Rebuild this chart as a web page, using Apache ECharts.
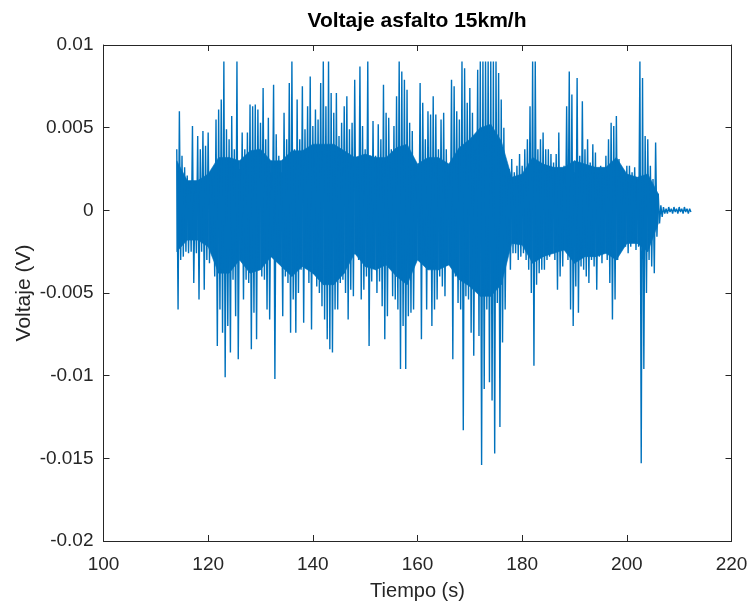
<!DOCTYPE html>
<html>
<head>
<meta charset="utf-8">
<script src="https://cdn.jsdelivr.net/npm/echarts@6.0.0/dist/echarts.min.js"></script>
<style>
  html, body { margin: 0; padding: 0; background: #fff; }
  #chart { width: 749px; height: 603px; }
</style>
</head>
<body>
<div id="chart"></div>
<script>
// Sample times (s): one upper and one lower peak read per half second
const sampleTime = [
  114.0,114.5,115.0,115.5,116.0,116.5,117.0,117.5,118.0,118.5,
  119.0,119.5,120.0,120.5,121.0,121.5,122.0,122.5,123.0,123.5,
  124.0,124.5,125.0,125.5,126.0,126.5,127.0,127.5,128.0,128.5,
  129.0,129.5,130.0,130.5,131.0,131.5,132.0,132.5,133.0,133.5,
  134.0,134.5,135.0,135.5,136.0,136.5,137.0,137.5,138.0,138.5,
  139.0,139.5,140.0,140.5,141.0,141.5,142.0,142.5,143.0,143.5,
  144.0,144.5,145.0,145.5,146.0,146.5,147.0,147.5,148.0,148.5,
  149.0,149.5,150.0,150.5,151.0,151.5,152.0,152.5,153.0,153.5,
  154.0,154.5,155.0,155.5,156.0,156.5,157.0,157.5,158.0,158.5,
  159.0,159.5,160.0,160.5,161.0,161.5,162.0,162.5,163.0,163.5,
  164.0,164.5,165.0,165.5,166.0,166.5,167.0,167.5,168.0,168.5,
  169.0,169.5,170.0,170.5,171.0,171.5,172.0,172.5,173.0,173.5,
  174.0,174.5,175.0,175.5,176.0,176.5,177.0,177.5,178.0,178.5,
  179.0,179.5,180.0,180.5,181.0,181.5,182.0,182.5,183.0,183.5,
  184.0,184.5,185.0,185.5,186.0,186.5,187.0,187.5,188.0,188.5,
  189.0,189.5,190.0,190.5,191.0,191.5,192.0,192.5,193.0,193.5,
  194.0,194.5,195.0,195.5,196.0,196.5,197.0,197.5,198.0,198.5,
  199.0,199.5,200.0,200.5,201.0,201.5,202.0,202.5,203.0,203.5,
  204.0,204.5,205.0,205.5,206.0,206.5,207.0,207.5,208.0,208.5,
  209.0,209.5,210.0,210.5,211.0,211.5,212.0
];

// Positive peaks of the voltage signal (V)
const upperPeak = [
  0.0037,0.0060,0.0033,0.0026,0.0021,0.0017,0.0051,0.0017,0.0045,0.0037,
  0.0048,0.0039,0.0047,0.0023,0.0026,0.0055,0.0061,0.0067,0.0090,0.0049,
  0.0043,0.0057,0.0037,0.0090,0.0025,0.0047,0.0037,0.0047,0.0064,0.0063,
  0.0064,0.0061,0.0053,0.0074,0.0043,0.0056,0.0023,0.0076,0.0046,0.0033,
  0.0023,0.0059,0.0043,0.0077,0.0090,0.0037,0.0067,0.0043,0.0075,0.0049,
  0.0063,0.0081,0.0051,0.0061,0.0055,0.0077,0.0090,0.0063,0.0090,0.0071,
  0.0059,0.0071,0.0045,0.0053,0.0063,0.0069,0.0049,0.0053,0.0079,0.0026,
  0.0087,0.0051,0.0037,0.0090,0.0033,0.0054,0.0033,0.0052,0.0043,0.0076,
  0.0059,0.0056,0.0037,0.0051,0.0069,0.0090,0.0084,0.0079,0.0073,0.0053,
  0.0048,0.0029,0.0027,0.0077,0.0065,0.0043,0.0060,0.0058,0.0069,0.0058,
  0.0037,0.0055,0.0059,0.0037,0.0027,0.0079,0.0075,0.0060,0.0055,0.0090,
  0.0086,0.0065,0.0074,0.0059,0.0037,0.0085,0.0090,0.0090,0.0090,0.0090,
  0.0090,0.0090,0.0090,0.0083,0.0067,0.0050,0.0021,0.0025,0.0031,0.0023,
  0.0027,0.0034,0.0027,0.0037,0.0043,0.0063,0.0090,0.0090,0.0037,0.0043,
  0.0047,0.0037,0.0037,0.0034,0.0029,0.0034,0.0047,0.0023,0.0027,0.0063,
  0.0084,0.0070,0.0023,0.0080,0.0033,0.0066,0.0037,0.0043,0.0029,0.0040,
  0.0035,0.0025,0.0027,0.0023,0.0033,0.0043,0.0053,0.0051,0.0057,0.0031,
  0.0026,0.0024,0.0027,0.0027,0.0023,0.0026,0.0019,0.0090,0.0080,0.0045,
  0.0043,0.0027,0.0019,0.0041,0.0010,0.0003,0.0002,0.0001,0.0002,0.0001,
  0.0002,0.0001,0.0002,0.0001,0.0002,0.0001,0.0001
];

// Negative peaks of the voltage signal (V)
const lowerPeak = [
  -0.0060,-0.0030,-0.0028,-0.0025,-0.0026,-0.0025,-0.0044,-0.0026,-0.0054,-0.0025,
  -0.0048,-0.0030,-0.0032,-0.0020,-0.0040,-0.0082,-0.0060,-0.0074,-0.0101,-0.0070,
  -0.0086,-0.0042,-0.0064,-0.0090,-0.0028,-0.0054,-0.0042,-0.0044,-0.0084,-0.0062,
  -0.0078,-0.0030,-0.0040,-0.0042,-0.0060,-0.0066,-0.0022,-0.0102,-0.0026,-0.0026,
  -0.0064,-0.0040,-0.0044,-0.0074,-0.0054,-0.0074,-0.0050,-0.0036,-0.0068,-0.0034,
  -0.0044,-0.0072,-0.0036,-0.0046,-0.0050,-0.0058,-0.0066,-0.0078,-0.0084,-0.0086,
  -0.0060,-0.0060,-0.0044,-0.0042,-0.0050,-0.0066,-0.0048,-0.0052,-0.0026,-0.0030,
  -0.0054,-0.0048,-0.0040,-0.0082,-0.0043,-0.0030,-0.0050,-0.0043,-0.0058,-0.0078,
  -0.0064,-0.0030,-0.0052,-0.0054,-0.0060,-0.0096,-0.0070,-0.0096,-0.0064,-0.0062,
  -0.0060,-0.0028,-0.0030,-0.0078,-0.0026,-0.0060,-0.0030,-0.0070,-0.0060,-0.0054,
  -0.0040,-0.0046,-0.0052,-0.0032,-0.0028,-0.0090,-0.0040,-0.0056,-0.0060,-0.0133,
  -0.0052,-0.0054,-0.0074,-0.0088,-0.0040,-0.0076,-0.0154,-0.0108,-0.0060,-0.0104,
  -0.0115,-0.0147,-0.0056,-0.0131,-0.0080,-0.0060,-0.0022,-0.0036,-0.0026,-0.0026,
  -0.0030,-0.0028,-0.0026,-0.0030,-0.0036,-0.0050,-0.0094,-0.0045,-0.0038,-0.0036,
  -0.0036,-0.0030,-0.0028,-0.0026,-0.0030,-0.0048,-0.0040,-0.0034,-0.0024,-0.0030,
  -0.0060,-0.0070,-0.0046,-0.0062,-0.0034,-0.0036,-0.0040,-0.0044,-0.0030,-0.0034,
  -0.0048,-0.0028,-0.0032,-0.0026,-0.0030,-0.0044,-0.0066,-0.0054,-0.0030,-0.0024,
  -0.0022,-0.0022,-0.0026,-0.0022,-0.0018,-0.0024,-0.0022,-0.0153,-0.0096,-0.0050,
  -0.0030,-0.0034,-0.0038,-0.0016,-0.0008,-0.0004,-0.0002,-0.0002,-0.0001,-0.0002,
  -0.0001,-0.0002,-0.0001,-0.0002,-0.0001,-0.0002,-0.0001
];

// Dense (solid) core of the signal, read every 2 s
const coreTime = [
  114,116,118,120,122,124,126,128,130,132,134,136,138,140,142,144,
  146,148,150,152,154,156,158,160,162,164,166,168,170,172,174,176,
  178,180,182,184,186,188,190,192,194,196,198,200,202,204,206
];
const coreUpper = [
  0.0030,0.0018,0.0018,0.0022,0.0032,0.0032,0.0030,0.0036,0.0037,0.0030,0.0030,0.0036,0.0036,0.0040,0.0040,0.0040,
  0.0036,0.0032,0.0034,0.0032,0.0032,0.0038,0.0040,0.0028,0.0032,0.0032,0.0028,0.0038,0.0043,0.0050,0.0052,0.0042,
  0.0020,0.0022,0.0032,0.0028,0.0026,0.0026,0.0030,0.0028,0.0026,0.0026,0.0032,0.0022,0.0020,0.0022,0.0010
];
const coreLower = [
  -0.0025,-0.0018,-0.0018,-0.0022,-0.0038,-0.0038,-0.0030,-0.0038,-0.0036,-0.0028,-0.0034,-0.0040,-0.0034,-0.0038,-0.0045,-0.0045,
  -0.0038,-0.0026,-0.0034,-0.0036,-0.0033,-0.0040,-0.0045,-0.0030,-0.0036,-0.0036,-0.0033,-0.0042,-0.0046,-0.0052,-0.0052,-0.0045,
  -0.0020,-0.0021,-0.0032,-0.0028,-0.0026,-0.0024,-0.0032,-0.0028,-0.0028,-0.0026,-0.0030,-0.0020,-0.0020,-0.0025,-0.0008
];

// Tick values
const xTicks = [100, 120, 140, 160, 180, 200, 220];
const yTicks = [-0.02, -0.015, -0.01, -0.005, 0, 0.005, 0.01];

// Signal trace: each upper peak followed by a lower peak half a sample later
const halfSample = 0.25;
const n = Math.min(sampleTime.length, upperPeak.length, lowerPeak.length);
const trace = [];
for (let i = 0; i < n; i++) {
  trace.push([sampleTime[i], upperPeak[i]]);
  trace.push([sampleTime[i] + halfSample, lowerPeak[i]]);
}
const coreData = coreTime.map((t, i) => [t, coreLower[i], coreUpper[i]]);

const FONT = '"Liberation Sans", Arial, Helvetica, sans-serif';
const AX = '#262626';
const BLUE = '#0072BD';

const chart = echarts.init(document.getElementById('chart'), null, { renderer: 'canvas' });
const xStep = xTicks[1] - xTicks[0];
const yStep = yTicks[1] - yTicks[0];
const yLabel = v => String(+Number(v).toFixed(3));

const baseAxis = {
  axisLine: { show: true, onZero: false, lineStyle: { color: AX, width: 1 } },
  axisTick: { show: true, inside: true, length: 6, lineStyle: { color: AX, width: 1 } },
  splitLine: { show: false }
};

// Core band: one quad between consecutive core samples, placed through the axes
function renderCore(params, api) {
  const i = params.dataIndex;
  if (i >= coreData.length - 1) return null;
  const a = coreData[i], b = coreData[i + 1];
  const pts = [
    api.coord([a[0], a[1]]), api.coord([a[0], a[2]]),
    api.coord([b[0], b[2]]), api.coord([b[0], b[1]])
  ];
  return {
    type: 'polygon',
    shape: { points: pts },
    style: { fill: BLUE, stroke: BLUE, lineWidth: 0.6 }
  };
}

chart.setOption({
  animation: false,
  backgroundColor: '#ffffff',
  title: {
    text: 'Voltaje asfalto 15km/h',
    left: 417, top: 11, textAlign: 'center', padding: 0,
    textStyle: { fontFamily: FONT, fontSize: 21, fontWeight: 'bold', color: '#000' }
  },
  grid: { left: 103.5, right: 17.5, top: 45, bottom: 62, containLabel: false, outerBoundsMode: 'none' },
  xAxis: [
    Object.assign({}, baseAxis, {
      type: 'value', position: 'bottom',
      min: xTicks[0], max: xTicks[xTicks.length - 1], interval: xStep,
      axisLabel: { color: AX, fontSize: 19, fontFamily: FONT, margin: 14 },
      name: 'Tiempo (s)', nameLocation: 'middle', nameGap: 40, nameMoveOverlap: false,
      nameTextStyle: { color: AX, fontSize: 20, fontFamily: FONT }
    }),
    Object.assign({}, baseAxis, {
      type: 'value', position: 'top',
      min: xTicks[0], max: xTicks[xTicks.length - 1], interval: xStep,
      axisLabel: { show: false }
    })
  ],
  yAxis: [
    Object.assign({}, baseAxis, {
      type: 'value', position: 'left',
      min: yTicks[0], max: yTicks[yTicks.length - 1], interval: yStep,
      axisLabel: { color: AX, fontSize: 19, fontFamily: FONT, margin: 10, formatter: yLabel },
      name: 'Voltaje (V)', nameLocation: 'middle', nameGap: 69, nameRotate: 90, nameMoveOverlap: false,
      nameTextStyle: { color: AX, fontSize: 21, fontFamily: FONT }
    }),
    Object.assign({}, baseAxis, {
      type: 'value', position: 'right',
      min: yTicks[0], max: yTicks[yTicks.length - 1], interval: yStep,
      axisLabel: { show: false }
    })
  ],
  series: [
    {
      type: 'custom', name: 'core',
      xAxisIndex: 0, yAxisIndex: 0,
      data: coreData,
      encode: { x: 0, y: [1, 2] },
      renderItem: renderCore,
      silent: true, z: 1
    },
    {
      type: 'line', name: 'Voltaje',
      xAxisIndex: 0, yAxisIndex: 0,
      data: trace, symbol: 'none', showSymbol: false, sampling: null,
      lineStyle: { color: BLUE, width: 1.4 },
      emphasis: { disabled: true }, z: 2
    }
  ]
});
</script>
</body>
</html>
